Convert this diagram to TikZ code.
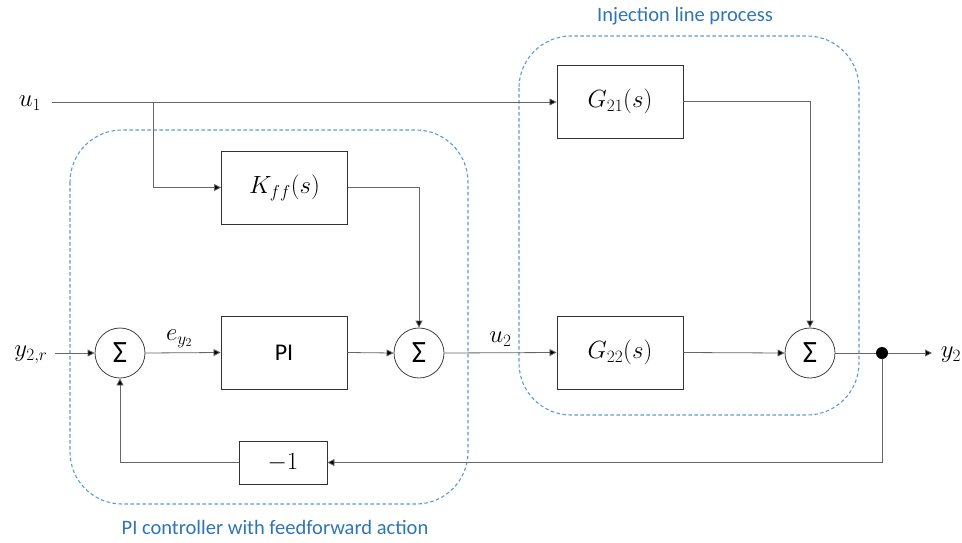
\documentclass[tikz,border=0pt]{standalone}
\usepackage{fontspec}
\setmainfont{Carlito}
\usetikzlibrary{arrows.meta}
\definecolor{grpblue}{HTML}{5B9BD5}
\definecolor{txtblue}{HTML}{2E75B6}
\begin{document}
\begin{tikzpicture}[x=1pt,y=-1pt,
  blk/.style={draw=black!80,line width=0.9pt,minimum width=126pt,minimum height=73pt,inner sep=0pt,font=\fontsize{24}{28}\selectfont},
  sumnode/.style={draw=black!75,line width=0.8pt,circle,minimum size=50pt,inner sep=0pt,font=\fontsize{31}{34}\selectfont},
  arr/.style={draw=black!60,line width=0.8pt,-{Triangle[length=7pt,width=7pt,fill=black]}},
  ln/.style={draw=black!60,line width=0.8pt},
  grp/.style={draw=grpblue,line width=1.1pt,dash pattern=on 3.5pt off 2.5pt,rounded corners=52pt},
  grplbl/.style={text=txtblue,font=\fontsize{20.5}{24}\selectfont},
  mlbl/.style={font=\fontsize{24}{28}\selectfont,inner sep=0pt}]
\useasboundingbox (0,0) rectangle (962,542);
% groups
\draw[grp] (70,130) rectangle (468,504);
\draw[grp] (519,36) rectangle (859,415);
\node[grplbl] (g1lbl) at (685,16) {Injection line process};
\node[grplbl] (g2lbl) at (275,527) {PI controller with feedforward action};
% blocks
\node[blk] (Kff) at (284.5,187.5) {$K_{ff}(s)$};
\node[blk] (PI) at (284,352.5) {PI};
\node[blk] (G21) at (620,101.5) {$G_{21}(s)$};
\node[blk] (G22) at (620,352.5) {$G_{22}(s)$};
\node[blk,minimum width=88pt,minimum height=43pt] (M1) at (283,462.5) {$-1$};
\node[sumnode] (S1) at (120,353) {Σ};
\node[sumnode] (S2) at (419,353) {Σ};
\node[sumnode] (S3) at (810,353) {Σ};
\node[circle,fill=black,minimum size=12pt,inner sep=0pt] (dot) at (882,353) {};
% labels
\node[mlbl] (u1) at (30,103) {$u_1$};
\node[mlbl] (y2r) at (31,355) {$y_{2,r}$};
\node[mlbl] (y2) at (951,355) {$y_2$};
\coordinate (u1s) at (52,102);
\coordinate (br) at (153,102);
\coordinate (y2rs) at (55,353);
\coordinate (y2e) at (932,353);
% connectors
\draw[arr] (u1s) -- (G21.west |- u1s);
\draw[arr] (br) |- (Kff.west);
\draw[arr] (Kff.east) -| (S2.north);
\draw[arr] (G21.east) -| (S3.north);
\draw[arr] (y2rs) -- (S1.west);
\draw[arr] (S1.east) -- node[mlbl,above=5pt,pos=0.45] (ey) {$e_{y_2}$} (PI.west);
\draw[arr] (PI.east) -- (S2.west);
\draw[arr] (S2.east) -- node[mlbl,above=6pt,pos=0.5] (u2) {$u_2$} (G22.west);
\draw[arr] (G22.east) -- (S3.west);
\draw[ln] (S3.east) -- (dot);
\draw[arr] (dot) -- (y2e);
\draw[arr] (dot) |- (M1.east);
\draw[arr] (M1.west) -| (S1.south);
\end{tikzpicture}
\end{document}
